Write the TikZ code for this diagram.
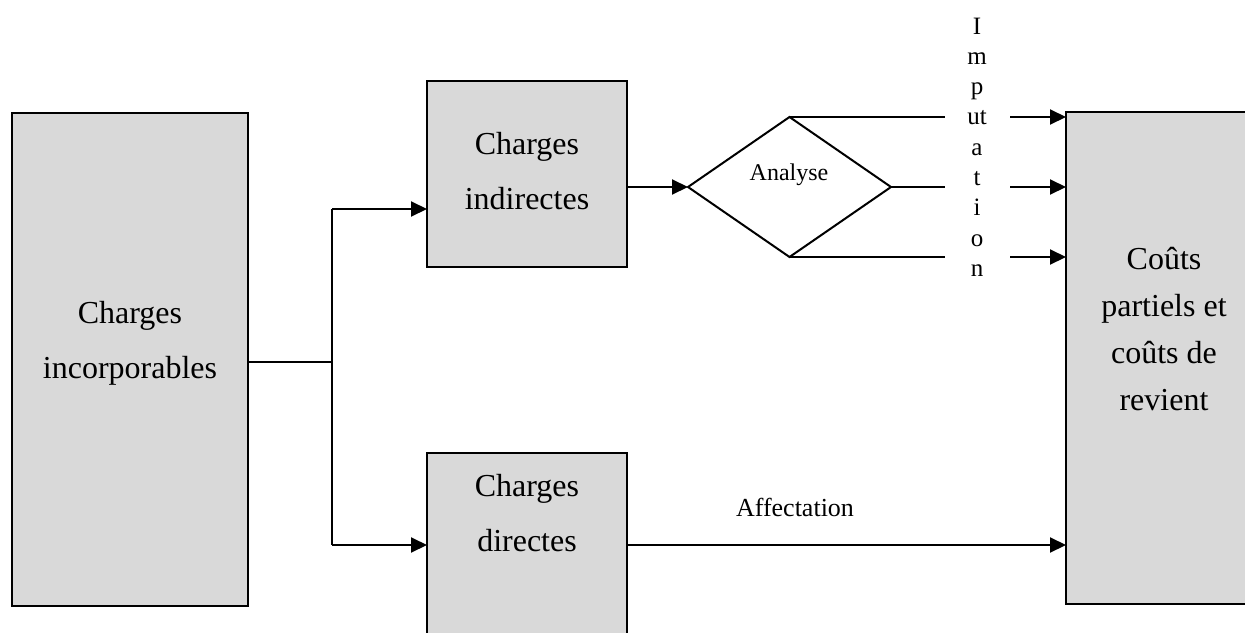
\documentclass[tikz,border=0pt]{standalone}
\usepackage{fontspec}
\setmainfont{Liberation Serif}
\usetikzlibrary{shapes.geometric,arrows.meta}
\definecolor{boxgray}{HTML}{D9D9D9}
\begin{document}
\begin{tikzpicture}[x=1pt,y=-1pt,
  box/.style={draw,line width=2pt,fill=boxgray,rectangle,inner sep=0pt,outer sep=0pt},
  bigtext/.style={font=\fontsize{32}{55}\selectfont,align=center,inner sep=0pt,anchor=north},
  smalltext/.style={font=\fontsize{25}{30.3}\selectfont,align=center,inner sep=0pt},
  conn/.style={line width=2pt},
  arr/.style={line width=2pt,-{Triangle[length=16pt,width=15pt]}}
]
\path[use as bounding box,clip] (0,0) rectangle (1245,632);

% boxes
\node[box,minimum width=236pt,minimum height=493pt] (inc) at (130,359.5) {};
\node[box,minimum width=200pt,minimum height=186pt] (ind) at (527,174) {};
\node[box,minimum width=200pt,minimum height=207pt] (dir) at (527,556.5) {};
\node[box,minimum width=196pt,minimum height=492pt] (couts) at (1164,358) {};
\node[diamond,draw,line width=2pt,inner sep=0pt,outer sep=0pt,
      minimum width=203pt,minimum height=140pt] (dia) at (789.5,187) {};

% box texts
\node[bigtext] (incT) at (130,301) {Charges\\incorporables};
\node[bigtext] (indT) at (527,132) {Charges\\indirectes};
\node[bigtext] (dirT) at (527,474) {Charges\\directes};
\node[bigtext,font=\fontsize{32}{47}\selectfont] (coutsT) at (1164,247)
  {Coûts\\partiels et\\coûts de\\revient};
\node[smalltext,font=\fontsize{24}{30}\selectfont] (anaT) at (789,175) {Analyse};
\node[smalltext,font=\fontsize{26}{30}\selectfont] (affT) at (795,507) {Affectation};
\node[smalltext,anchor=north] (impT) at (977,17.5)
  {I\\m\\p\\ut\\a\\t\\i\\o\\n};

% branching from the incorporable charges
\coordinate (br) at (332,362);
\coordinate (up) at (332,209);
\coordinate (dn) at (332,545);
\draw[conn] (inc.east |- br) -- (br);
\draw[conn] (up) -- (dn);
\draw[arr] (up) -- (up -| ind.west);
\draw[arr] (dn) -- (dn -| dir.west);

% indirect charges through the analysis
\draw[arr] (dia.west -| ind.east) -- (dia.west);
\coordinate (cut) at (945,0);
\coordinate (go) at (1010,0);
\draw[conn] (dia.north) -- (dia.north -| cut);
\draw[conn] (dia.east) -- (dia.east -| cut);
\draw[conn] (dia.south) -- (dia.south -| cut);
\draw[arr] (dia.north -| go) -- (dia.north -| couts.west);
\draw[arr] (dia.east -| go) -- (dia.east -| couts.west);
\draw[arr] (dia.south -| go) -- (dia.south -| couts.west);

% direct charges
\draw[arr] (dir.east |- dn) -- (couts.west |- dn);
\end{tikzpicture}
\end{document}
